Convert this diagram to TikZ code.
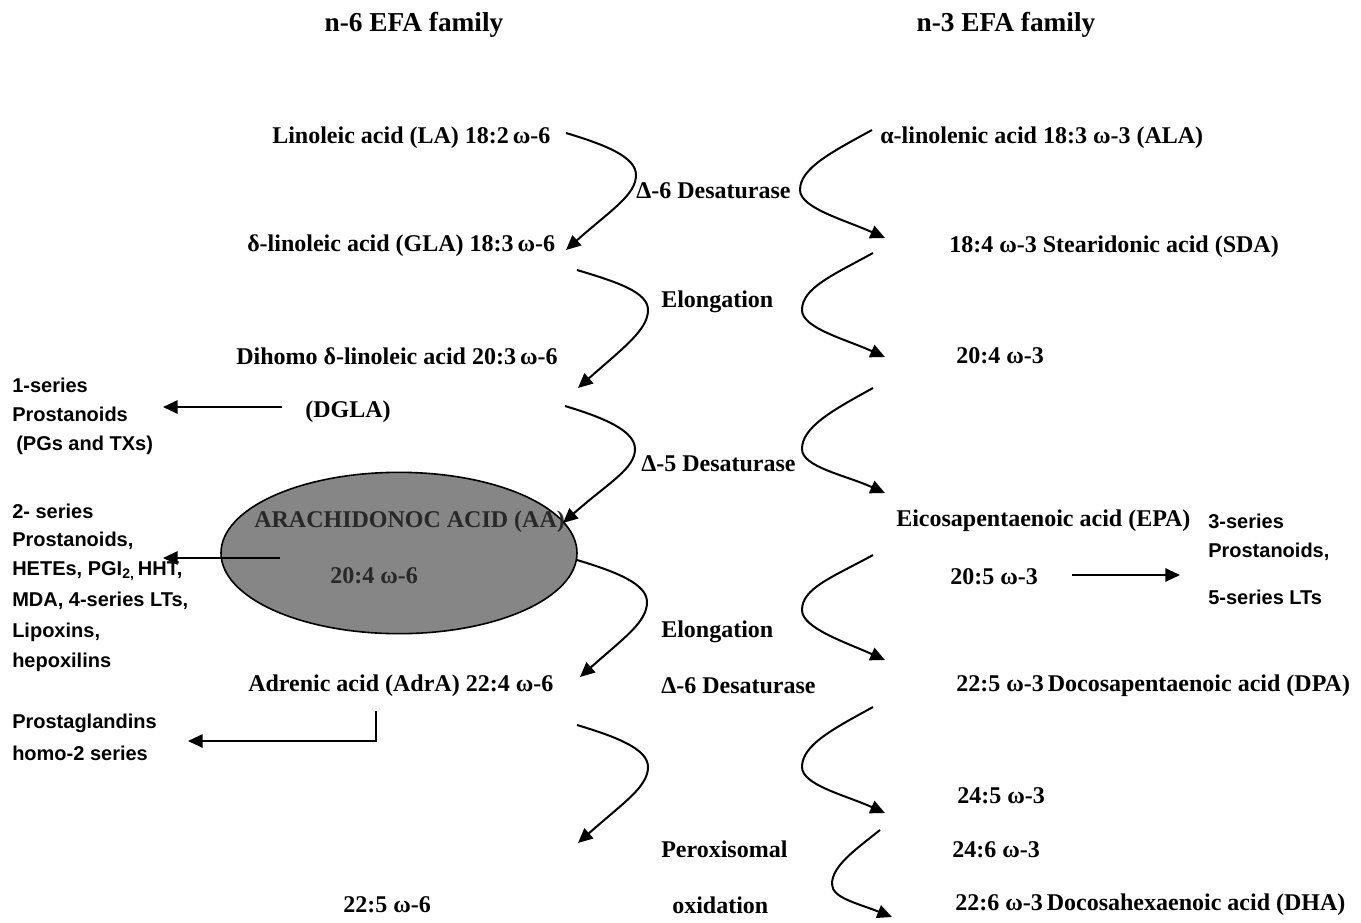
\documentclass[tikz,border=0pt]{standalone}
\usepackage{fontspec}
\setmainfont{Liberation Serif}
\newfontfamily\sansbold{Liberation Sans}[BoldFont={* Bold}]
\usetikzlibrary{arrows.meta,shapes.geometric,calc}
\definecolor{ellgray}{RGB}{134,134,134}
\definecolor{aatext}{RGB}{40,40,40}
\tikzset{
  ser/.style={font=\fontsize{18}{20}\selectfont\bfseries, inner sep=0pt, anchor=west},
  ttl/.style={font=\fontsize{20.5}{22}\selectfont\bfseries, inner sep=0pt},
  san/.style={font=\fontsize{15}{17}\selectfont\sansbold\bfseries, inner sep=0pt, anchor=west},
  curve/.style={line width=1.5pt, -{Triangle[length=11pt,width=10pt]}},
  straight/.style={line width=1.5pt, -{Triangle[length=11pt,width=10pt]}},
}
\newcommand\lcurve[3]{\draw[curve] (#1) .. controls ($(#1)+(40,12)$) and ($(#2)+(0,-18)$) .. (#2) .. controls ($(#2)+(0,20)$) and ($(#3)+(45,-40)$) .. (#3);}
\newcommand\rcurve[3]{\draw[curve] (#1) .. controls ($(#1)+(-40,22)$) and ($(#2)+(0,-22)$) .. (#2) .. controls ($(#2)+(0,18)$) and ($(#3)+(-40,-18)$) .. (#3);}
\begin{document}
\begin{tikzpicture}[x=0.75pt,y=-0.75pt]
\useasboundingbox (0,0) rectangle (1361,922);
% titles
\node[ttl] (t6) at (414,25) {n-6 EFA family};
\node[ttl] (t3) at (1006,25) {n-3 EFA family};
% n-6 column
\node[ser] (la) at (272,138) {Linoleic acid (LA) 18:2\,ω-6};
\node[ser] (gla) at (247,246) {δ-linoleic acid (GLA) 18:3\,ω-6};
\node[ser] (dgla) at (236,356) {Dihomo δ-linoleic acid 20:3\,ω-6};
\node[ser] (dgla2) at (305,412) {(DGLA)};
\node[draw=black, line width=1.2pt, fill=ellgray, ellipse, minimum width=267pt, minimum height=121pt, inner sep=0pt] (aa) at (399,553) {};
\node[ser, text=aatext] (aat) at (254,522) {ARACHIDONOC ACID (AA)};
\node[ser, text=aatext] (aat2) at (330,576) {20:4 ω-6};
\node[ser] (adra) at (248,686) {Adrenic acid (AdrA) 22:4 ω-6};
\node[ser] (d225) at (343,905) {22:5 ω-6};
% middle
\node[ser] (e1) at (636,191) {Δ-6 Desaturase};
\node[ser] (e2) at (661,302) {Elongation};
\node[ser] (e3) at (641,464) {Δ-5 Desaturase};
\node[ser] (e4) at (661,632) {Elongation};
\node[ser] (e5) at (661,686) {Δ-6 Desaturase};
\node[ser] (e6) at (661,849) {Peroxisomal};
\node[ser] (e7) at (672,905) {oxidation};
% n-3 column
\node[ser] (ala) at (880,138) {α-linolenic acid 18:3 ω-3 (ALA)};
\node[ser] (sda) at (949,247) {18:4 ω-3 Stearidonic acid (SDA)};
\node[ser] (n204) at (956,356) {20:4 ω-3};
\node[ser] (epa) at (896,521) {Eicosapentaenoic acid (EPA)};
\node[ser] (epa2) at (950,577) {20:5 ω-3};
\node[ser] (dpa) at (956,686) {22:5 ω-3\,Docosapentaenoic acid (DPA)};
\node[ser] (n245) at (957,796) {24:5 ω-3};
\node[ser] (n246) at (952,850) {24:6 ω-3};
\node[ser] (dha) at (955,905) {22:6 ω-3\,Docosahexaenoic acid (DHA)};
% sans labels
\node[san] (s1a) at (12,385) {1-series};
\node[san] (s1b) at (12,414) {Prostanoids};
\node[san] (s1c) at (16,445) {(PGs and TXs)};
\node[san] (s2a) at (12,511) {2- series};
\node[san] (s2b) at (12,541) {Prostanoids,};
\node[san] (s2c) at (12,571) {HETEs, PGI\textsubscript{2,}\,HHT,};
\node[san] (s2d) at (12,601) {MDA, 4-series LTs,};
\node[san] (s2e) at (12,632) {Lipoxins,};
\node[san] (s2f) at (12,662) {hepoxilins};
\node[san] (s3a) at (12,723) {Prostaglandins};
\node[san] (s3b) at (12,753) {homo-2 series};
\node[san] (s4a) at (1208,521) {3-series};
\node[san] (s4b) at (1208,552) {Prostanoids,};
\node[san] (s4c) at (1208,597) {5-series LTs};
% straight arrows
\coordinate (a1s) at (282,407); \coordinate (a1e) at (163,407);
\draw[straight] (a1s) -- (a1e);
\coordinate (a2s) at (280,558); \coordinate (a2e) at (163,558);
\draw[straight] (a2s) -- (a2e);
\coordinate (a3s) at (376,711); \coordinate (a3e) at (188,741);
\draw[straight] (a3s) |- (a3e);
\coordinate (a4s) at (1072,575); \coordinate (a4e) at (1180,575);
\draw[straight] (a4s) -- (a4e);
% curved arrows left
\coordinate (l1s) at (566,133); \coordinate (l1m) at (636,175); \coordinate (l1t) at (566,250);
\coordinate (l2s) at (577,270); \coordinate (l2m) at (648,310); \coordinate (l2t) at (578,388);
\coordinate (l3s) at (565,406); \coordinate (l3m) at (635,449); \coordinate (l3t) at (563,523);
\coordinate (l4s) at (577,560); \coordinate (l4m) at (647,602); \coordinate (l4t) at (580,677);
\coordinate (l5s) at (577,725); \coordinate (l5m) at (648,767); \coordinate (l5t) at (578,843);
\lcurve{l1s}{l1m}{l1t}
\lcurve{l2s}{l2m}{l2t}
\lcurve{l3s}{l3m}{l3t}
\lcurve{l4s}{l4m}{l4t}
\lcurve{l5s}{l5m}{l5t}
% curved arrows right
\coordinate (r1s) at (872,130); \coordinate (r1m) at (800,190); \coordinate (r1t) at (885,238);
\coordinate (r2s) at (873,253); \coordinate (r2m) at (802,310); \coordinate (r2t) at (885,357);
\coordinate (r3s) at (873,388); \coordinate (r3m) at (802,449); \coordinate (r3t) at (885,493);
\coordinate (r4s) at (873,555); \coordinate (r4m) at (802,610); \coordinate (r4t) at (885,660);
\coordinate (r5s) at (873,707); \coordinate (r5m) at (802,767); \coordinate (r5t) at (885,813);
\coordinate (r6s) at (880,830); \coordinate (r6m) at (832,884); \coordinate (r6t) at (892,917);
\rcurve{r1s}{r1m}{r1t}
\rcurve{r2s}{r2m}{r2t}
\rcurve{r3s}{r3m}{r3t}
\rcurve{r4s}{r4m}{r4t}
\rcurve{r5s}{r5m}{r5t}
\draw[curve] (r6s) .. controls ($(r6s)+(-25,20)$) and ($(r6m)+(0,-18)$) .. (r6m) .. controls ($(r6m)+(0,14)$) and ($(r6t)+(-35,-14)$) .. (r6t);
\end{tikzpicture}
\end{document}
